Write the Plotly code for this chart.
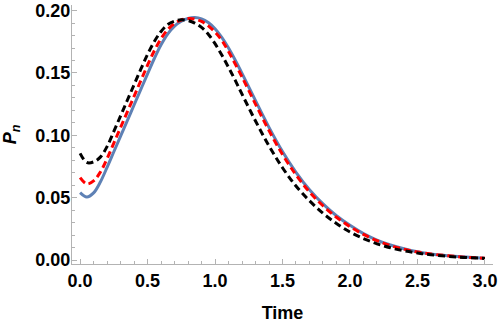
import plotly.graph_objects as go

# values
t_blue = [0.0, 0.05, 0.1, 0.15, 0.2, 0.25, 0.3, 0.35, 0.4, 0.45, 0.5, 0.55, 0.6, 0.65, 0.7, 0.75, 0.8, 0.85,
          0.9, 0.95, 1.0, 1.05, 1.1, 1.15, 1.2, 1.3, 1.4, 1.5, 1.6, 1.7, 1.8, 1.9, 2.0,
          2.1, 2.2, 2.3, 2.4, 2.5, 2.6, 2.8, 3.0]
p_blue = [0.0540, 0.0505, 0.0538, 0.0625, 0.0743, 0.0868, 0.0993, 0.1118, 0.1243, 0.1368, 0.1493, 0.1616,
          0.1726, 0.1814, 0.1876, 0.1916, 0.1937, 0.1944,
          0.1934, 0.1904, 0.1854, 0.1785, 0.1700, 0.1602, 0.1497, 0.1278, 0.1064, 0.0870, 0.0703, 0.0563,
          0.0450, 0.0355, 0.0278, 0.0212, 0.0160, 0.0120, 0.0090, 0.0066, 0.0049, 0.0028, 0.0015]

t_red = [0.0, 0.05, 0.1, 0.15, 0.2, 0.25, 0.3, 0.35, 0.4, 0.45, 0.5, 0.55, 0.6, 0.65, 0.7, 0.75, 0.8, 0.85,
         0.9, 0.95, 1.0, 1.05, 1.1, 1.15, 1.2, 1.3, 1.4, 1.5, 1.6, 1.7, 1.8, 1.9, 2.0,
         2.1, 2.2, 2.3, 2.4, 2.5, 2.6, 2.8, 3.0]
p_red = [0.0660, 0.0610, 0.0635, 0.0705, 0.0813, 0.0938, 0.1063, 0.1188, 0.1313, 0.1438, 0.1562, 0.1678,
         0.1775, 0.1849, 0.1898, 0.1925, 0.1936, 0.1932,
         0.1913, 0.1878, 0.1828, 0.1762, 0.1672, 0.1572, 0.1468, 0.1250, 0.1038, 0.0846, 0.0683, 0.0545,
         0.0435, 0.0343, 0.0268, 0.0205, 0.0155, 0.0116, 0.0087, 0.0064, 0.0048, 0.0027, 0.0014]

t_black = [0.0, 0.05, 0.1, 0.15, 0.2, 0.25, 0.3, 0.35, 0.4, 0.45, 0.5, 0.55, 0.6, 0.65, 0.7, 0.75, 0.8, 0.85,
           0.9, 0.95, 1.0, 1.05, 1.1, 1.15, 1.2, 1.3, 1.4, 1.5, 1.6, 1.7, 1.8, 1.9, 2.0,
           2.1, 2.2, 2.3, 2.4, 2.5, 2.6, 2.8, 3.0]
p_black = [0.0855, 0.0782, 0.0787, 0.0825, 0.0910, 0.1031, 0.1156, 0.1281, 0.1406, 0.1530, 0.1649, 0.1752,
           0.1833, 0.1888, 0.1915, 0.1926, 0.1920, 0.1900,
           0.1865, 0.1810, 0.1735, 0.1645, 0.1545, 0.1440, 0.1330, 0.1115, 0.0915, 0.0740, 0.0593, 0.0475,
           0.0375, 0.0293, 0.0225, 0.0172, 0.0130, 0.0098, 0.0074, 0.0056, 0.0042, 0.0024, 0.0013]

fig = go.Figure()
fig.add_trace(go.Scatter(x=t_blue, y=p_blue, mode="lines",
                         line=dict(color="#5E81B5", width=3, shape="spline")))
fig.add_trace(go.Scatter(x=t_red, y=p_red, mode="lines",
                         line=dict(color="#FF0000", width=3, shape="spline", dash="7px,4px")))
fig.add_trace(go.Scatter(x=t_black, y=p_black, mode="lines",
                         line=dict(color="#000000", width=3, shape="spline", dash="7px,4px")))

axis_font = dict(family="Liberation Sans", size=18, color="black", weight="bold")
gray = "#b3b3b3"

fig.update_layout(
    width=498, height=323,
    margin=dict(l=72, r=5, t=5, b=59),
    plot_bgcolor="white", paper_bgcolor="white",
    showlegend=False,
    xaxis=dict(range=[-0.06, 3.06], showgrid=False, zeroline=False, automargin=False,
               showline=True, linecolor=gray, linewidth=1,
               ticks="inside", ticklen=5, tickcolor=gray, dtick=0.5, tick0=0,
               tickformat=".1f", tickfont=axis_font,
               minor=dict(ticks="inside", ticklen=3, tickcolor=gray, dtick=0.1, tick0=0),
               title=dict(text="Time", font=axis_font, standoff=19)),
    yaxis=dict(range=[-0.0032, 0.2045], showgrid=False, zeroline=False, automargin=False,
               showline=True, linecolor=gray, linewidth=1,
               ticks="inside", ticklen=5, tickcolor=gray, dtick=0.05, tick0=0,
               tickformat=".2f", tickfont=axis_font, ticklabelstandoff=-3,
               minor=dict(ticks="inside", ticklen=3, tickcolor=gray, dtick=0.01, tick0=0),
               title=dict(text="<i>P</i><sub><i>n</i></sub>", font=axis_font, standoff=14)),
)

# page body has a default margin; remove it so the figure sits at the window corner
fig.write_html("out.html", config={"displayModeBar": False},
               post_script="document.body.style.margin='0';")
